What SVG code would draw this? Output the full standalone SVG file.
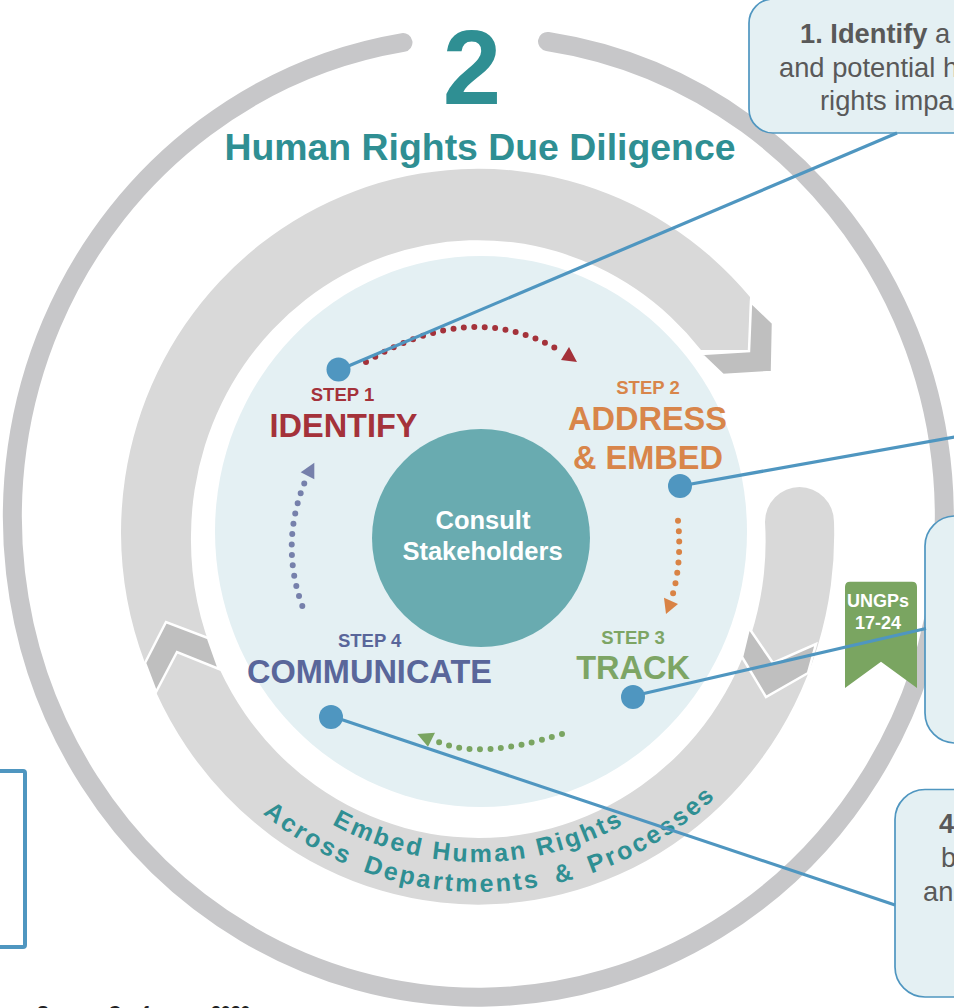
<svg xmlns="http://www.w3.org/2000/svg" width="954" height="1008" viewBox="0 0 954 1008">
<style>
text{font-family:"Liberation Sans",Arial,sans-serif}
.b{font-weight:700}
.m{text-anchor:middle}
.band{fill:#d9d9d9}
.head{fill:#bfbfbf;stroke:#fff;stroke-width:2.5;stroke-linejoin:miter}
.box{fill:#e4f0f3;stroke:#4f96c0;stroke-width:1.7}
.con{fill:none;stroke:#4f96c0;stroke-width:3.2}
.pin{fill:#4f96c0}
.dots{fill:none;stroke-width:6;stroke-linecap:round;stroke-dasharray:0 10.45}
.lbl{font-size:32.5px;font-weight:700}
.st{font-size:18.5px;font-weight:700;text-anchor:middle}
.co{font-size:27.3px;fill:#595959}
.cur{font-size:25px;font-weight:700;fill:#2f8f93;letter-spacing:2.6px}
</style>
<defs>
<path id="c1" d="M177,561 A301,301 0 0 0 779,561"/>
<path id="c2" d="M140,552 A340,340 0 0 0 820,552"/>
</defs>
<g id="outer-ring"><path d="M403,42.5 A466,480.5 0 1 0 547.5,41.5" fill="none" stroke="#c7c7c9" stroke-width="19" stroke-linecap="round"/></g>
<g id="embed-band">
<path class="band" d="M145,663 L166,622 L208,638 L216,661 A287,296.5 0 0 1 191,535 A287,296.5 0 0 1 701,350 L749,350 L750,297 A357,364 0 0 0 121,533 A357,364 0 0 0 145,663 Z"/>
<path class="band" d="M765,522 A34.5,35 0 0 1 834,522 A356,370 0 0 1 156,692 L177,652 L220,670 A287,296.5 0 0 0 765,522 Z"/>
<path class="head" d="M751,302 L773,323 L772,372 L723,375 L701,354 L749,351 Z"/>
<path class="head" d="M145,663 L166,622 L208,638 L219,669 L177,652 L156,692 Z"/>
<path class="head" d="M749,628 L773,663 L816,644 L808,673 L766,697 L742,657 Z"/>
</g>
<g id="inner-disc"><ellipse cx="481" cy="531.5" rx="266" ry="275.5" fill="#e4f0f3"/></g>
<g id="title"><text class="b m" x="472" y="104" font-size="105" fill="#2f8f93">2</text>
<text class="b m" x="480" y="160" font-size="37.400" fill="#2f8f93">Human Rights Due Diligence</text></g>
<g id="band-text">
<text class="cur"><textPath href="#c1" startOffset="320">Embed Human Rights</textPath></text>
<text class="cur" word-spacing="6"><textPath href="#c2" startOffset="298">Across Departments &amp; Processes</textPath></text>
</g>
<g id="hub"><circle cx="481" cy="538" r="109" fill="#69abb0"/>
<text class="b m" x="483" y="529" font-size="25.500" fill="#fff">Consult</text>
<text class="b m" x="482.500" y="560" font-size="25.500" fill="#fff">Stakeholders</text></g>
<g id="cycle-arrows">
<path class="dots" stroke="#a4323a" d="M366,362 Q470,300 555,348"/><path fill="#a4323a" d="M569,347 L577,362 L561,360 Z"/>
<path class="dots" stroke="#d98345" d="M678,520.700 Q682,560 673,593.700"/><path fill="#d98345" d="M664,597.700 L678,604 L666,614 Z"/>
<path class="dots" stroke="#7aa561" d="M562,734 Q480,760 438,741.700"/><path fill="#7aa561" d="M417.300,734 L435,732.700 L428,746.700 Z"/>
<path class="dots" stroke="#7680ab" d="M302.300,606 Q280,544 304.700,482.300"/><path fill="#7680ab" d="M314.300,462.700 L300.700,472.300 L314.300,479.300 Z"/>
</g>
<g id="step1"><text class="st" x="342.500" y="400.700" fill="#a4323a">STEP 1</text><text class="lbl m" x="343.500" y="436.700" fill="#a4323a">IDENTIFY</text></g>
<g id="step2"><text class="st" x="648" y="394" fill="#d8854a">STEP 2</text><text class="lbl m" x="647.500" y="430" fill="#d8854a">ADDRESS</text><text class="lbl m" x="648" y="468.700" fill="#d8854a">&amp; EMBED</text></g>
<g id="step3"><text class="st" x="633" y="644" fill="#7da565">STEP 3</text><text class="lbl m" x="633" y="679" fill="#7da565">TRACK</text></g>
<g id="step4"><text class="st" x="369.700" y="646.700" fill="#59669a">STEP 4</text><text class="lbl m" x="369.500" y="683" fill="#59669a">COMMUNICATE</text></g>
<g id="ungps"><path fill="#7aa561" d="M845,587 Q845,581.700 850,581.700 L912,581.700 Q917,581.700 917,587 L917,688 L881,661.700 L845,688 Z"/>
<text class="b m" x="878" y="606.700" font-size="18" fill="#fff">UNGPs</text><text class="b m" x="878" y="629" font-size="18" fill="#fff">17-24</text></g>
<g id="box-1"><rect class="box" x="749" y="-1" width="260" height="134" rx="24"/>
<text class="co" x="800" y="43"><tspan class="b">1. Identify</tspan> a</text><text class="co" x="779" y="76.500">and potential h</text><text class="co" x="820" y="110">rights impa</text></g>
<g id="box-3"><rect class="box" x="925" y="516" width="100" height="227" rx="30"/></g>
<g id="box-4"><rect class="box" x="895" y="789.500" width="100" height="207.500" rx="30"/>
<text class="co b" x="939" y="833">4</text><text class="co" x="941" y="867">b</text><text class="co" x="923" y="901">an</text></g>
<g id="box-left"><rect x="-20" y="771" width="45" height="176" rx="2" fill="none" stroke="#4f96c0" stroke-width="4"/></g>
<g id="source"><text x="37" y="1019" font-size="17.800" font-weight="700" fill="#222">Source: Conference 2020</text></g>
<g id="connectors">
<path class="con" d="M339,370 L897,133"/><path class="con" d="M680,486 L960,436"/><path class="con" d="M633,696 L926,628.500"/><path class="con" d="M331,716 L895,905"/>
<circle class="pin" cx="338.500" cy="369.500" r="12"/><circle class="pin" cx="680" cy="486" r="12"/><circle class="pin" cx="633" cy="697" r="12"/><circle class="pin" cx="331" cy="717" r="12"/>
</g>
</svg>
